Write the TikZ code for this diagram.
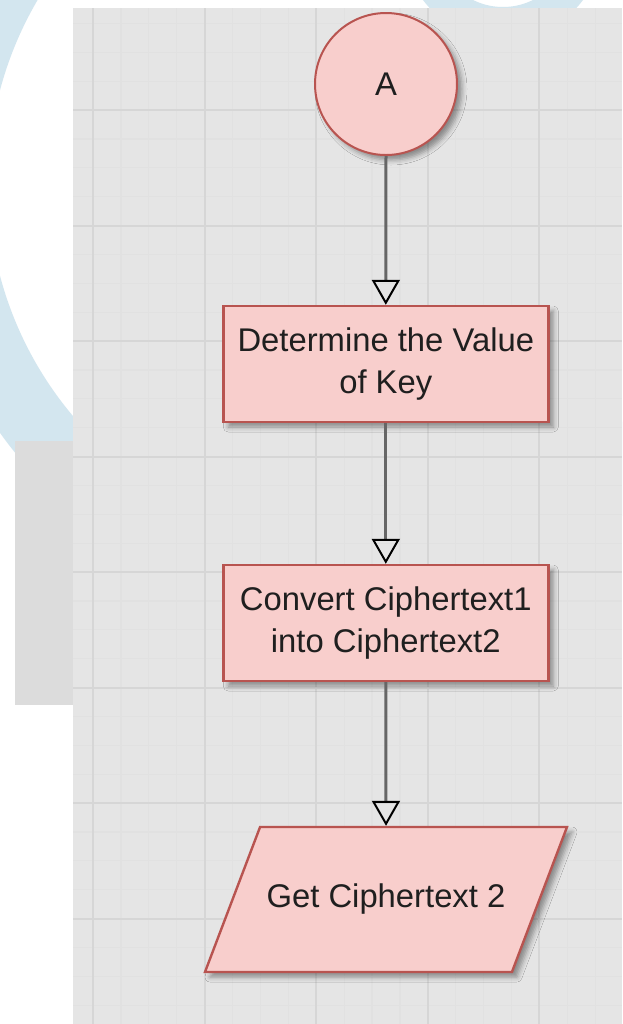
\documentclass[tikz,border=0pt]{standalone}
\usepackage{fontspec}
\setmainfont{Liberation Sans}
\usetikzlibrary{arrows.meta,shapes.geometric,shadows.blur}
\definecolor{wmblue}{RGB}{211,230,239}
\definecolor{panel}{RGB}{229,229,229}
\definecolor{sidebox}{RGB}{220,220,220}
\definecolor{gridmajor}{RGB}{214,214,214}
\definecolor{gridminor}{RGB}{225,225,225}
\definecolor{boxfill}{HTML}{F8CECC}
\definecolor{boxline}{HTML}{B85450}
\definecolor{flow}{RGB}{102,102,102}
\begin{document}
\begin{tikzpicture}[x=0.5pt,y=-0.5pt,
    every node/.style={font=\fontsize{16.4}{21}\selectfont, text=black!88, align=center, inner sep=0pt},
    flowshape/.style={draw=boxline, fill=boxfill, line width=1.2pt,
      blur shadow={shadow xshift=2.5pt, shadow yshift=-2.5pt, shadow blur radius=2.5pt, shadow opacity=40}},
    terminal/.style={flowshape, circle, minimum size=71pt, line width=1pt},
    process/.style={flowshape, rectangle, minimum width=162.5pt, minimum height=58pt},
    io/.style={flowshape, trapezium, trapezium left angle=69.2, trapezium right angle=110.8,
      trapezium stretches body=true, inner ysep=28.6pt, minimum width=181pt},
    flowarrow/.style={draw=flow, line width=1.5pt,
      -{Triangle[open, length=12.5pt, width=14pt, color=black, line width=1pt]}}]
    \useasboundingbox (0,0) rectangle (622,1024);
    \fill [white] (0,0) rectangle (622,1024);
    % watermark rings behind the canvas
    \begin{scope}
        \clip (0,0) rectangle (622,1024);
        \fill [wmblue, even odd rule] (350,183) circle [radius=430] (350,183) circle [radius=362];
        \fill [wmblue, even odd rule] (503,-60) circle [radius=100] (503,-60) circle [radius=67];
    \end{scope}
    \fill [sidebox] (15,441) rectangle (73,705);
    \fill [panel] (73,8) rectangle (622,1024);
    % grid
    \begin{scope}
        \clip (73,8) rectangle (622,1024);
        \foreach \k in {0,...,19}
            \draw [gridminor, line width=0.6pt] ({93+27.9*\k},8) -- ({93+27.9*\k},1024);
        \foreach \k in {0,...,34}
            \draw [gridminor, line width=0.6pt] (73,{23.4+28.875*\k}) -- (622,{23.4+28.875*\k});
        \foreach \k in {0,...,4}
            \draw [gridmajor, line width=1pt] ({93+111.6*\k},8) -- ({93+111.6*\k},1024);
        \foreach \k in {0,...,7}
            \draw [gridmajor, line width=1pt] (73,{110+115.5*\k}) -- (622,{110+115.5*\k});
    \end{scope}
    % flowchart
    \node [terminal] (A) at (386,84) {A};
    \node [process] (keyval) at (385.8,364) {Determine the Value\\of Key};
    \node [process] (convert) at (385.8,623) {Convert Ciphertext1\\into Ciphertext2};
    \node [io] (getct) at (386,899.5) {Get Ciphertext 2};
    \draw [flowarrow] (A.south) -- (keyval.north);
    \draw [flowarrow] (keyval.south) -- (convert.north);
    \draw [flowarrow] (convert.south) -- (getct.north);
\end{tikzpicture}
\end{document}
